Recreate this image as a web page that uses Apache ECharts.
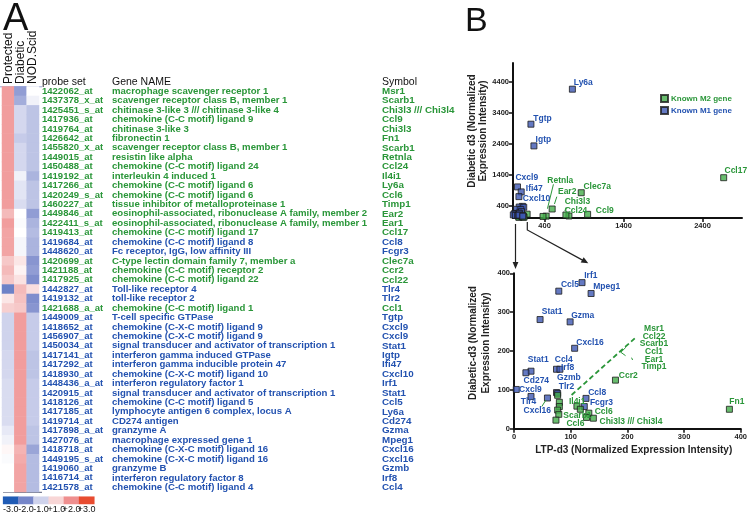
<!DOCTYPE html>
<html><head><meta charset="utf-8">
<script src="https://cdn.jsdelivr.net/npm/echarts@6/dist/echarts.min.js"></script>
<style>html,body{margin:0;padding:0;background:#fff}#c{width:750px;height:515px}</style>
</head><body><div id="c"></div>
<script>
// ---------------- DATA ----------------
const conditions = ['Protected', 'Diabetic', 'NOD.Scid'];
const probeSets = ['1422062_at','1437378_x_at','1425451_s_at','1417936_at','1419764_at','1426642_at','1455820_x_at','1449015_at','1450488_at','1419192_at','1417266_at','1420249_s_at','1460227_at','1449846_at','1422411_s_at','1419413_at','1419684_at','1448620_at','1420699_at','1421188_at','1417925_at','1442827_at','1419132_at','1421688_a_at','1449009_at','1418652_at','1456907_at','1450034_at','1417141_at','1417292_at','1418930_at','1448436_a_at','1420915_at','1418126_at','1417185_at','1419714_at','1417898_a_at','1427076_at','1418718_at','1449195_s_at','1419060_at','1416714_at','1421578_at'];
const geneNames = ['macrophage scavenger receptor 1','scavenger receptor class B, member 1','chitinase 3-like 3 /// chitinase 3-like 4','chemokine (C-C motif) ligand 9','chitinase 3-like 3','fibronectin 1','scavenger receptor class B, member 1','resistin like alpha','chemokine (C-C motif) ligand 24','interleukin 4 induced 1','chemokine (C-C motif) ligand 6','chemokine (C-C motif) ligand 6','tissue inhibitor of metalloproteinase 1','eosinophil-associated, ribonuclease A family, member 2','eosinophil-associated, ribonuclease A family, member 1','chemokine (C-C motif) ligand 17','chemokine (C-C motif) ligand 8','Fc receptor, IgG, low affinity III','C-type lectin domain family 7, member a','chemokine (C-C motif) receptor 2','chemokine (C-C motif) ligand 22','Toll-like receptor 4','toll-like receptor 2','chemokine (C-C motif) ligand 1','T-cell specific GTPase','chemokine (C-X-C motif) ligand 9','chemokine (C-X-C motif) ligand 9','signal transducer and activator of transcription 1','interferon gamma induced GTPase','interferon gamma inducible protein 47','chemokine (C-X-C motif) ligand 10','interferon regulatory factor 1','signal transducer and activator of transcription 1','chemokine (C-C motif) ligand 5','lymphocyte antigen 6 complex, locus A','CD274 antigen','granzyme A','macrophage expressed gene 1','chemokine (C-X-C motif) ligand 16','chemokine (C-X-C motif) ligand 16','granzyme B','interferon regulatory factor 8','chemokine (C-C motif) ligand 4'];
const symbols = ['Msr1','Scarb1','Chi3l3 /// Chi3l4','Ccl9','Chi3l3','Fn1','Scarb1','Retnla','Ccl24','Il4i1','Ly6a','Ccl6','Timp1','Ear2','Ear1','Ccl17','Ccl8','Fcgr3','Clec7a','Ccr2','Ccl22','Tlr4','Tlr2','Ccl1','Tgtp','Cxcl9','Cxcl9','Stat1','Igtp','Ifi47','Cxcl10','Irf1','Stat1','Ccl5','Ly6a','Cd274','Gzma','Mpeg1','Cxcl16','Cxcl16','Gzmb','Irf8','Ccl4'];
const rowType = ['M2','M2','M2','M2','M2','M2','M2','M2','M2','M2','M2','M2','M2','M2','M2','M2','M1','M1','M2','M2','M2','M1','M1','M2','M1','M1','M1','M1','M1','M1','M1','M1','M1','M1','M1','M1','M1','M1','M1','M1','M1','M1','M1'];
const protectedZ = [1.8,1.8,1.8,1.8,1.8,1.8,1.8,1.8,1.8,1.8,1.8,1.8,1.8,1.4,1.8,1.7,1.7,1.7,1.2,1.4,1.2,-2.1,0.6,1.1,-1.0,-1.0,-1.0,-1.0,-0.9,-0.9,-0.9,-0.8,-0.8,-0.8,-0.8,-0.8,-0.5,-0.3,0.2,-0.1,0.0,0.0,0.0];
const diabeticZ  = [-1.7,-1.5,-0.9,-0.9,-0.9,-1.1,-0.9,-0.9,-0.9,-0.3,-0.6,-0.6,-0.8,0.0,-0.1,0.0,-0.2,-0.2,0.6,0.3,0.7,1.4,1.3,1.2,1.8,1.8,1.8,1.8,1.8,1.8,1.8,1.8,1.8,1.8,1.8,1.8,1.8,1.8,1.5,1.6,1.7,1.7,1.7];
const nodScidZ   = [0.0,-0.3,-1.2,-1.2,-1.2,-1.2,-1.2,-1.2,-1.2,-1.4,-1.2,-1.2,-1.2,-1.7,-1.4,-1.3,-1.4,-1.4,-1.8,-1.7,-1.9,0.8,-1.9,-1.8,-1.1,-1.1,-1.1,-1.1,-1.2,-1.2,-1.2,-1.1,-1.1,-1.1,-1.1,-1.1,-1.2,-1.2,-1.6,-1.3,-1.3,-1.3,-1.3];
const scaleLabels = ['-3.0','-2.0','-1.0','+1.0','+2.0','+3.0'];
const scaleValues = [-3, -2, -1, 1, 2, 3];

// scatter: LTP-d3 vs Diabetic-d3 normalized expression
const scatterGenes = ['Ly6a','Tgtp','Igtp','Cxcl9','Ifi47','Cxcl10','Irf1','Ccl5','Mpeg1','Stat1','Gzma','Cxcl16','Stat1','Cd274','Ccl4','Irf8','Cxcl9','Tlr4','Cxcl16','Tlr2','Gzmb','Ccl8','Fcgr3',
  'Ccl17','Clec7a','Ccl9','Ccl24','Chi3l3','Ear2','Retnla','Fn1','Ccr2','Msr1','Ccl22','Scarb1','Ccl1','Ear1','Timp1','Il4i1','Scarb1','Ccl6','Ccl6','Chi3l3 /// Chi3l4'];
const scatterType = ['M1','M1','M1','M1','M1','M1','M1','M1','M1','M1','M1','M1','M1','M1','M1','M1','M1','M1','M1','M1','M1','M1','M1',
  'M2','M2','M2','M2','M2','M2','M2','M2','M2','M2','M2','M2','M2','M2','M2','M2','M2','M2','M2','M2'];
const ltpD3 = [752,227,265,57,104,75,120,79,136,46,99,107,30,21,75,81,4,30,59,75,77,127,124,
  2668,864,945,708,670,496,420,380,179,77,80,80,77,79,74,111,117,132,128,140];
const diabeticD3 = [4155,3026,2326,1003,842,690,376,354,348,281,275,207,148,144,153,153,101,83,79,93,91,78,57,
  1300,816,118,65,97,290,60,50,125,86,68,57,48,37,22,58,50,40,29,27];

const topXTicks = [400, 1400, 2400];
const topYTicks = [400, 1400, 2400, 3400, 4400];
const zoomTicks = [0, 100, 200, 300, 400];

// ---------------- STYLE ----------------
const FONT = '"Liberation Sans", Arial, Helvetica, sans-serif';
const GREEN_TXT = '#2a9639', BLUE_TXT = '#2352b0';
const GREEN_PT = '#43ad4a', BLUE_PT = '#3d58b3';
const typeColor = t => (t === 'M2' ? GREEN_TXT : BLUE_TXT);

// label anchors (annotation layout, data-space)
const topNotes = [
  ['Ly6a', 763, 4365, 'M1'], ['Tgtp', 250, 3216, 'M1'], ['Igtp', 280, 2516, 'M1'],
  ['Cxcl9', 25, 1300, 'M1'], ['Ifi47', 156, 935, 'M1'], ['Cxcl10', 118, 613, 'M1'],
  ['Retnla', 428, 1203, 'M2'], ['Ear2', 563, 848, 'M2'], ['Chi3l3', 648, 522, 'M2'],
  ['Ccl24', 648, 242, 'M2'], ['Ccl9', 1042, 226, 'M2'], ['Clec7a', 886, 1010, 'M2'],
  ['Ccl17', 2672, 1539, 'M2']
];
const topLeaders = [[[512,1087],[436,300]], [[555,687],[525,452]], [[673,345],[657,226]]];
const zoomNotes = [
  ['Irf1',123,395,'M1'],['Ccl5',82,370,'M1'],['Mpeg1',139,365,'M1'],['Stat1',48,300,'M1'],
  ['Gzma',100,290,'M1'],['Cxcl16',109,221,'M1'],['Stat1',23.5,179,'M1'],['Cd274',16,123,'M1'],
  ['Ccl4',71,177,'M1'],['Irf8',82,158,'M1'],['Gzmb',75,132,'M1'],['Cxcl9',8,101,'M1'],
  ['Tlr4',11,69,'M1'],['Cxcl16',16,46,'M1'],['Tlr2',78,108,'M1'],['Ccl8',130,93,'M1'],
  ['Fcgr3',133,68,'M1'],['Il4i1',96,70,'M2'],['Scarb1',86,34.5,'M2'],['Ccl6',91.6,13,'M2'],
  ['Ccl6',141.5,44,'M2'],['Chi3l3 /// Chi3l4',150,18,'M2'],['Ccr2',184,136,'M2'],['Fn1',379,69.5,'M2']
];
const zoomGroupNote = ['Msr1\nCcl22\nScarb1\nCcl1\nEar1\nTimp1', 247, 208];
const zoomLeaders = [[[49,57],[56.4,74]], [[197.4,209.5],[188.5,196.7]], [[188.5,196.7],[196.8,188]], [[207.4,182.8],[209.2,176.8]]];
const zoomDashed = [[101.6,86.7],[213,232.7]];

// ---------------- BUILD ----------------
const rowIdx = probeSets.map((_, i) => String(i));
const heatData = [];
[protectedZ, diabeticZ, nodScidZ].forEach((col, c) => col.forEach((v, r) => heatData.push([c, r, v])));
const scaleData = scaleValues.map((v, i) => [i, 0, v]);

function pts(type) {
  const out = [];
  scatterGenes.forEach((g, i) => { if (scatterType[i] === type) out.push({ name: g, value: [ltpD3[i], diabeticD3[i]] }); });
  return out;
}
const ptStyle = (c) => ({ color: c, borderColor: '#1b1b1b', borderWidth: 1 });

const textAxis = (arr, offset, size) => ({
  type: 'category', gridIndex: 0, data: rowIdx, inverse: true, position: 'right', offset: offset,
  axisLine: { show: false }, axisTick: { show: false }, splitLine: { show: false },
  axisLabel: {
    interval: 0, margin: 3, align: 'left', fontFamily: FONT, fontWeight: 'bold', fontSize: size,
    formatter: (v) => arr[+v], color: (v) => typeColor(rowType[+v])
  }
});

const axisCommon = {
  axisLine: { show: true, onZero: false, lineStyle: { color: '#111', width: 2 } },
  axisTick: { show: true, length: 4, lineStyle: { color: '#111', width: 1.5 } },
  axisLabel: { fontFamily: FONT, fontWeight: 'bold', fontSize: 7.5, color: '#222', margin: 4 },
  splitLine: { show: false }
};
function valAxis(grid, min, max, ticks) {
  const a = JSON.parse(JSON.stringify(axisCommon));
  a.type = 'value'; a.gridIndex = grid; a.min = min; a.max = max;
  a.axisTick.customValues = ticks; a.axisLabel.customValues = ticks;
  a.axisLabel.formatter = (v) => String(v);
  return a;
}

function noteSeries(notes, xi, yi, leaders, dashed, group) {
  const data = notes.map(n => ({ name: n[0], value: [n[1], n[2]], label: { color: typeColor(n[3]) } }));
  if (group) data.push({ name: group[0], value: [group[1], group[2]],
    label: { color: GREEN_TXT, position: 'inside', align: 'center', lineHeight: 7.6 } });
  const ml = leaders.map(l => [{ coord: l[0] }, { coord: l[1] }]);
  if (dashed) ml.push([{ coord: dashed[0], lineStyle: { type: [5, 3], width: 1.8 } }, { coord: dashed[1] }]);
  return {
    type: 'scatter', xAxisIndex: xi, yAxisIndex: yi, symbol: 'circle', symbolSize: 1, silent: true, z: 5,
    itemStyle: { color: 'rgba(0,0,0,0)', borderWidth: 0 },
    label: { show: true, position: 'right', distance: 0, formatter: '{b}', fontFamily: FONT,
      fontWeight: 'bold', fontSize: 8.5, opacity: 1 },
    labelLayout: { hideOverlap: false },
    data: data,
    markLine: { silent: true, symbol: ['none', 'none'], label: { show: false }, animation: false,
      lineStyle: { color: GREEN_TXT, type: 'solid', width: 1 }, data: ml }
  };
}

const colX = [8.2, 20.5, 33];
const colLabelGraphics = conditions.map((c, i) => ({
  type: 'text', x: colX[i], y: 84, rotation: Math.PI / 2,
  style: { text: c, font: '12px ' + FONT, fill: '#111', align: 'left', verticalAlign: 'middle' }
}));

const chart = echarts.init(document.getElementById('c'), null, { renderer: 'canvas' });
chart.setOption({
  animation: false,
  backgroundColor: '#fff',
  textStyle: { fontFamily: FONT },
  grid: [
    { left: 2, top: 86.5, width: 37, height: 405.5 },
    { left: 2.7, top: 496.7, width: 91.6, height: 7.3 },
    { left: 513, top: 63, width: 229, height: 155 },
    { left: 514, top: 273.3, width: 227, height: 155.4 }
  ],
  visualMap: {
    type: 'continuous', show: false, min: -3, max: 3, seriesIndex: [0, 1], dimension: 2,
    inRange: { color: ['#1f5bb5', '#7686c9', '#cfd3ec', '#ffffff', '#f8d6d6', '#ef8f8f', '#e84c30'] }
  },
  legend: {
    left: 655, top: 89, orient: 'vertical', itemWidth: 7, itemHeight: 7, itemGap: 3,
    icon: 'rect',
    textStyle: { fontFamily: FONT, fontWeight: 'bold', fontSize: 8, padding: [0, 0, 0, -2] },
    data: [
      { name: 'Known M2 gene', textStyle: { color: GREEN_TXT } },
      { name: 'Known M1 gene', textStyle: { color: BLUE_TXT } }
    ]
  },
  xAxis: [
    { type: 'category', gridIndex: 0, data: conditions, position: 'top',
      axisLine: { show: false }, axisTick: { show: false }, axisLabel: { show: false } },
    { type: 'category', gridIndex: 1, data: scaleLabels, position: 'bottom',
      axisLine: { show: false }, axisTick: { show: false },
      axisLabel: { interval: 0, margin: 1, fontFamily: FONT, fontSize: 9, color: '#111', hideOverlap: false } },
    valAxis(2, 0, 2900, topXTicks),
    valAxis(3, 0, 400, zoomTicks)
  ],
  yAxis: [
    { type: 'category', gridIndex: 0, data: rowIdx, inverse: true, show: false },
    textAxis(probeSets, 0, 9.5),
    textAxis(geneNames, 70, 9.6),
    textAxis(symbols, 340, 9.8),
    { type: 'category', gridIndex: 1, data: ['s'], show: false },
    valAxis(2, 0, 5000, topYTicks),
    valAxis(3, 0, 400, zoomTicks)
  ],
  series: [
    { type: 'heatmap', xAxisIndex: 0, yAxisIndex: 0, data: heatData, silent: true },
    { type: 'heatmap', xAxisIndex: 1, yAxisIndex: 4, data: scaleData, silent: true },
    { name: 'Known M2 gene', type: 'scatter', xAxisIndex: 2, yAxisIndex: 5, symbol: 'rect', symbolSize: 6,
      itemStyle: ptStyle(GREEN_PT), data: pts('M2') },
    { name: 'Known M1 gene', type: 'scatter', xAxisIndex: 2, yAxisIndex: 5, symbol: 'rect', symbolSize: 6,
      itemStyle: ptStyle(BLUE_PT), data: pts('M1') },
    { name: 'Known M1 gene', type: 'scatter', xAxisIndex: 3, yAxisIndex: 6, symbol: 'rect', symbolSize: 6,
      itemStyle: ptStyle(BLUE_PT), data: pts('M1'), clip: true },
    { name: 'Known M2 gene', type: 'scatter', xAxisIndex: 3, yAxisIndex: 6, symbol: 'rect', symbolSize: 6,
      itemStyle: ptStyle(GREEN_PT), data: pts('M2'), clip: true },
    noteSeries(topNotes, 2, 5, topLeaders, null, null),
    noteSeries(zoomNotes, 3, 6, zoomLeaders, zoomDashed, zoomGroupNote)
  ],
  graphic: colLabelGraphics.concat([
    { type: 'text', left: 3, top: 1, style: { text: 'A', font: '38px ' + FONT, fill: '#111' } },
    { type: 'text', left: 465, top: 5, style: { text: 'B', font: '34px ' + FONT, fill: '#111' } },
    { type: 'text', x: 42, y: 82, style: { text: 'probe set', font: '10.5px ' + FONT, fill: '#111', verticalAlign: 'middle' } },
    { type: 'text', x: 112, y: 82, style: { text: 'Gene NAME', font: '10.5px ' + FONT, fill: '#111', verticalAlign: 'middle' } },
    { type: 'text', x: 382, y: 82, style: { text: 'Symbol', font: '10.5px ' + FONT, fill: '#111', verticalAlign: 'middle' } },
    { type: 'line', shape: { x1: 3, y1: 492.3, x2: 42, y2: 492.3 }, style: { stroke: '#5a6078', lineWidth: 1 } },
    { type: 'line', shape: { x1: 0, y1: 86.8, x2: 42, y2: 86.8 }, style: { stroke: '#9aa4d4', lineWidth: 1 } },
    // axis titles
    { type: 'text', x: 477.5, y: 131, rotation: Math.PI / 2,
      style: { text: 'Diabetic d3 (Normalized\nExpression Intensity)', font: 'bold 10px ' + FONT, fill: '#222',
        align: 'center', verticalAlign: 'middle', lineHeight: 11.5 } },
    { type: 'text', x: 480, y: 343, rotation: Math.PI / 2,
      style: { text: 'Diabetic-d3 (Normalized\nExpression Intensity)', font: 'bold 10px ' + FONT, fill: '#222',
        align: 'center', verticalAlign: 'middle', lineHeight: 13 } },
    { type: 'text', x: 633.7, y: 450.5,
      style: { text: 'LTP-d3 (Normalized Expression Intensity)', font: 'bold 10px ' + FONT, fill: '#222',
        align: 'center', verticalAlign: 'middle' } },
    // zoom connectors
    { type: 'polyline', shape: { points: [[515.5, 224], [515.5, 263]] }, style: { stroke: '#222', lineWidth: 1.2, fill: null } },
    { type: 'polygon', shape: { points: [[512.6, 262], [518.4, 262], [515.5, 269]] }, style: { fill: '#222' } },
    { type: 'polyline', shape: { points: [[527.3, 222], [527.3, 230], [583, 260.4]] }, style: { stroke: '#222', lineWidth: 1.2, fill: null } },
    { type: 'polygon', shape: { points: [[588.3, 263.3], [580.7, 262.5], [583.7, 257.3]] }, style: { fill: '#222' } }
  ])
});
</script>
</body></html>
